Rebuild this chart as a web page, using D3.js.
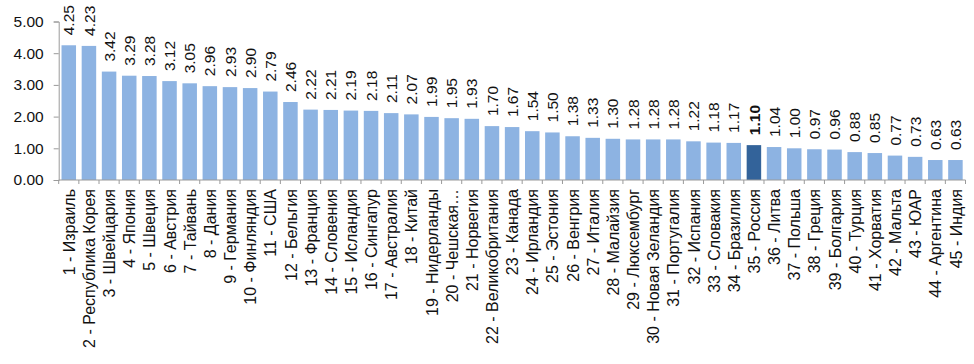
<!DOCTYPE html>
<html>
<head>
<meta charset="utf-8">
<script src="https://cdn.jsdelivr.net/npm/d3@7"></script>
<style>
  body { margin: 0; background: #fff; }
  svg { display: block; }
</style>
</head>
<body>
<svg></svg>
<script>
const wSvg = 974, hSvg = 364;

const countries = [
    "Израиль", "Республика Корея", "Швейцария", "Япония", "Швеция", "Австрия",
    "Тайвань", "Дания", "Германия", "Финляндия", "США", "Бельгия", "Франция",
    "Словения", "Исландия", "Сингапур", "Австралия", "Китай", "Нидерланды",
    "Чешская…", "Норвегия", "Великобритания", "Канада", "Ирландия", "Эстония",
    "Венгрия", "Италия", "Малайзия", "Люксембург", "Новая Зеландия", "Португалия",
    "Испания", "Словакия", "Бразилия", "Россия", "Литва", "Польша", "Греция",
    "Болгария", "Турция", "Хорватия", "Мальта", "ЮАР", "Аргентина", "Индия"
];

const values = [
    4.25, 4.23, 3.42, 3.29, 3.28, 3.12, 3.05, 2.96, 2.93, 2.90, 2.79, 2.46, 2.22,
    2.21, 2.19, 2.18, 2.11, 2.07, 1.99, 1.95, 1.93, 1.70, 1.67, 1.54, 1.50,
    1.38, 1.33, 1.30, 1.28, 1.28, 1.28, 1.22, 1.18, 1.17, 1.10, 1.04, 1.00, 0.97,
    0.96, 0.88, 0.85, 0.77, 0.73, 0.63, 0.63
];

const yTicks = [0, 1, 2, 3, 4, 5];
const highlight = "Россия";

const data = countries.map((c, i) => ({
    name: c,
    label: (i + 1) + " - " + c,
    value: values[i]
}));

const svg = d3.select("svg")
    .attr("width", wSvg)
    .attr("height", hSvg)
    .style("font-family", "Liberation Sans, Arial, sans-serif")
;

const x = d3.scaleBand()
    .domain(data.map(d => d.label))
    .range([58.7, 965.5])
    .paddingInner(0.28)
    .paddingOuter(0.14)
;

const y = d3.scaleLinear()
    .domain([0, 5])
    .range([180, 21.5])
;

const axisColor = "#9a9a9a";

// y axis
const yAxis = svg.append("g")
    .attr("transform", "translate(58.7,0)")
    .call(d3.axisLeft(y).tickValues(yTicks).tickFormat(d3.format(".2f")).tickSizeOuter(0).tickSize(5).tickPadding(10))
;
yAxis.select(".domain").attr("stroke", axisColor);
yAxis.selectAll(".tick line").attr("stroke", axisColor);
yAxis.selectAll(".tick text")
    .attr("font-size", 15.5)
    .attr("fill", "#111")
;

// bars
svg.append("g")
    .selectAll("rect")
    .data(data)
    .enter()
    .append("rect")
    .attr("x", d => x(d.label))
    .attr("width", x.bandwidth())
    .attr("y", d => y(d.value))
    .attr("height", d => y(0) - y(d.value))
    .attr("fill", d => d.name === highlight ? "#33639a" : "#8db3e2")
;

// x axis: ticks between categories
const xAxisG = svg.append("g");
xAxisG.append("line")
    .attr("x1", 58.7).attr("x2", 965.5)
    .attr("y1", 180).attr("y2", 180)
    .attr("stroke", axisColor)
;
const step = x.step();
xAxisG.selectAll("line.tk")
    .data(d3.range(data.length + 1))
    .enter()
    .append("line")
    .classed("tk", true)
    .attr("x1", i => x.range()[0] + i * step)
    .attr("x2", i => x.range()[0] + i * step)
    .attr("y1", 180).attr("y2", 184)
    .attr("stroke", axisColor)
;

// category labels
svg.append("g")
    .selectAll("text")
    .data(data)
    .enter()
    .append("text")
    .attr("transform", d => `translate(${x(d.label) + x.bandwidth() / 2},189) rotate(-90)`)
    .attr("text-anchor", "end")
    .attr("dy", "0.38em")
    .attr("font-size", 16)
    .attr("fill", "#111")
    .text(d => d.label)
;

// value labels
svg.append("g")
    .selectAll("text")
    .data(data)
    .enter()
    .append("text")
    .attr("transform", d => `translate(${x(d.label) + x.bandwidth() / 2},${y(d.value) - 10}) rotate(-90)`)
    .attr("text-anchor", "start")
    .attr("dy", "0.36em")
    .attr("font-size", 15.5)
    .attr("font-weight", d => d.name === highlight ? "bold" : "normal")
    .attr("fill", "#111")
    .text(d => d3.format(".2f")(d.value))
;
</script>
</body>
</html>
